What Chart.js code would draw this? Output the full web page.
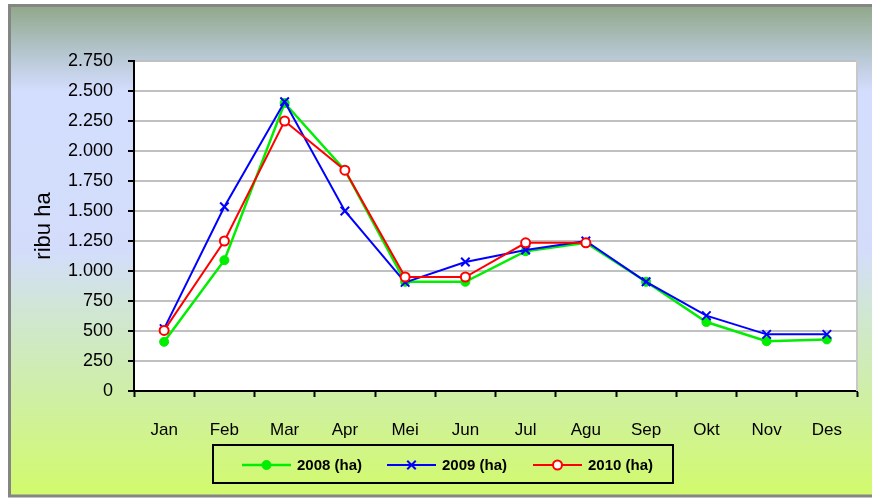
<!DOCTYPE html>
<html>
<head>
<meta charset="utf-8">
<script src="https://cdn.jsdelivr.net/npm/chart.js@4.4.1/dist/chart.umd.min.js"></script>
<style>
  html, body { margin: 0; padding: 0; background: #fff; }
  #wrap { width: 872px; height: 498px; }
</style>
</head>
<body>
<div id="wrap"><canvas id="luasChart" width="872" height="498"></canvas></div>
<script>
// Data luas (ribu ha) per bulan
const bulan = ['Jan', 'Feb', 'Mar', 'Apr', 'Mei', 'Jun', 'Jul', 'Agu', 'Sep', 'Okt', 'Nov', 'Des'];
const data2008 = [410, 1090, 2400, 1840, 910, 910, 1165, 1235, 910, 575, 415, 430];
const data2009 = [520, 1535, 2410, 1500, 905, 1075, 1175, 1250, 910, 628, 472, 472];
const data2010 = [505, 1250, 2250, 1840, 950, 950, 1235, 1235, null, null, null, null];
const labelSeri = ['2008 (ha)', '2009 (ha)', '2010 (ha)'];
const tickY = [0, 250, 500, 750, 1000, 1250, 1500, 1750, 2000, 2250, 2500, 2750];

function formatRibuan(v) {
    return String(v).replace(/\B(?=(\d{3})+(?!\d))/g, '.');
}

// Latar belakang gradasi + bingkai + area plot putih
const latar = {
    id: 'latar',
    beforeDraw(chart) {
        const ctx = chart.ctx;
        const area = chart.chartArea;
        ctx.save();
        ctx.fillStyle = '#ffffff';
        ctx.fillRect(0, 0, chart.width, chart.height);
        const g = ctx.createLinearGradient(0, 8, 0, 495);
        g.addColorStop(0, '#93a98d');
        g.addColorStop(0.1, '#b8c8d4');
        g.addColorStop(0.17, '#d3ddfd');
        g.addColorStop(0.5, '#d3ddfb');
        g.addColorStop(0.62, '#d0e6d4');
        g.addColorStop(0.8, '#cfefa4');
        g.addColorStop(1, '#d2fa6c');
        ctx.fillStyle = g;
        ctx.fillRect(10, 6, chart.width - 10, 490);
        ctx.strokeStyle = '#858585';
        ctx.lineWidth = 3;
        ctx.strokeRect(9.5, 5.5, chart.width + 5, 490.5);
        ctx.fillStyle = '#ffffff';
        ctx.fillRect(area.left, area.top, area.right - area.left, area.bottom - area.top);
        ctx.restore();
    },
    beforeDatasetsDraw(chart) {
        const ctx = chart.ctx;
        const area = chart.chartArea;
        ctx.save();
        ctx.strokeStyle = '#c8c8c8';
        ctx.lineWidth = 2;
        ctx.beginPath();
        ctx.moveTo(area.right, area.top - 1);
        ctx.lineTo(area.right, area.bottom);
        ctx.stroke();
        ctx.restore();
    }
};

function gambarTitik(ctx, ds, x, y) {
    const r = ds.pointRadius;
    ctx.lineWidth = ds.pointBorderWidth;
    ctx.strokeStyle = ds.pointBorderColor;
    ctx.fillStyle = ds.pointBackgroundColor;
    if (ds.pointStyle === 'crossRot') {
        const d = Math.cos(Math.PI / 4) * r;
        ctx.beginPath();
        ctx.moveTo(x - d, y - d); ctx.lineTo(x + d, y + d);
        ctx.moveTo(x - d, y + d); ctx.lineTo(x + d, y - d);
        ctx.stroke();
    } else {
        ctx.beginPath();
        ctx.arc(x, y, r, 0, Math.PI * 2);
        ctx.fill();
        ctx.stroke();
    }
}

// Legenda di bawah dengan garis + penanda
const legendaBawah = {
    id: 'legendaBawah',
    afterDraw(chart) {
        const ctx = chart.ctx;
        ctx.save();
        ctx.strokeStyle = '#000000';
        ctx.lineWidth = 2;
        ctx.strokeRect(213, 445, 460, 38);
        ctx.font = 'bold 15px "Liberation Sans", Arial, sans-serif';
        ctx.textBaseline = 'middle';
        ctx.textAlign = 'left';
        const y = 465;
        const awal = [242, 387, 533];
        chart.data.datasets.forEach((ds, i) => {
            const x0 = awal[i];
            ctx.strokeStyle = ds.borderColor;
            ctx.lineWidth = ds.borderWidth;
            ctx.beginPath();
            ctx.moveTo(x0, y);
            ctx.lineTo(x0 + 49, y);
            ctx.stroke();
            gambarTitik(ctx, ds, x0 + 24.5, y);
            ctx.fillStyle = '#000000';
            ctx.fillText(ds.label, x0 + 55, y + 1);
        });
        ctx.restore();
    }
};

const luasChart = new Chart(document.getElementById('luasChart'), {
    type: 'line',
    data: {
        labels: bulan,
        datasets: [
            {
                label: labelSeri[0],
                data: data2008,
                borderColor: '#00ee00',
                borderWidth: 2.5,
                pointStyle: 'circle',
                pointRadius: 4.5,
                pointBorderWidth: 1,
                pointBackgroundColor: '#00ee00',
                pointBorderColor: '#00ee00',
                tension: 0,
                order: 2
            },
            {
                label: labelSeri[1],
                data: data2009,
                borderColor: '#0000ff',
                borderWidth: 2,
                pointStyle: 'crossRot',
                pointRadius: 6,
                pointBorderWidth: 2,
                pointBackgroundColor: '#0000ff',
                pointBorderColor: '#0000ff',
                tension: 0,
                order: 1
            },
            {
                label: labelSeri[2],
                data: data2010,
                borderColor: '#ff0000',
                borderWidth: 2,
                pointStyle: 'circle',
                pointRadius: 4.5,
                pointBorderWidth: 2,
                pointBackgroundColor: '#ffffff',
                pointBorderColor: '#ff0000',
                tension: 0,
                spanGaps: false,
                order: 0
            }
        ]
    },
    options: {
        responsive: false,
        animation: false,
        layout: {
            padding: { left: 0, top: 61, right: 15, bottom: 50 }
        },
        plugins: {
            legend: { display: false },
            tooltip: { enabled: false }
        },
        scales: {
            x: {
                offset: true,
                afterFit(scale) { scale.height = 57; },
                grid: {
                    offset: true,
                    drawOnChartArea: false,
                    tickLength: 6,
                    tickColor: '#000000',
                    tickWidth: 2
                },
                border: { color: '#000000', width: 2 },
                ticks: {
                    color: '#000000',
                    padding: 23,
                    font: { family: '"Liberation Sans", Arial, sans-serif', size: 17 }
                }
            },
            y: {
                min: 0,
                max: 2750,
                afterFit(scale) { scale.width = 134; },
                afterBuildTicks(scale) { scale.ticks = tickY.map(v => ({ value: v })); },
                grid: {
                    color: '#c0c0c0',
                    lineWidth: 2,
                    tickLength: 6,
                    tickColor: '#000000',
                    tickWidth: 2
                },
                border: { color: '#000000', width: 2 },
                ticks: {
                    color: '#000000',
                    padding: 15,
                    font: { family: '"Liberation Sans", Arial, sans-serif', size: 18 },
                    callback: (v) => formatRibuan(v)
                },
                title: {
                    display: true,
                    text: 'ribu ha',
                    color: '#000000',
                    padding: { top: 31, bottom: 0 },
                    font: { family: '"Liberation Sans", Arial, sans-serif', size: 22 }
                }
            }
        }
    },
    plugins: [latar, legendaBawah]
});
</script>
</body>
</html>
